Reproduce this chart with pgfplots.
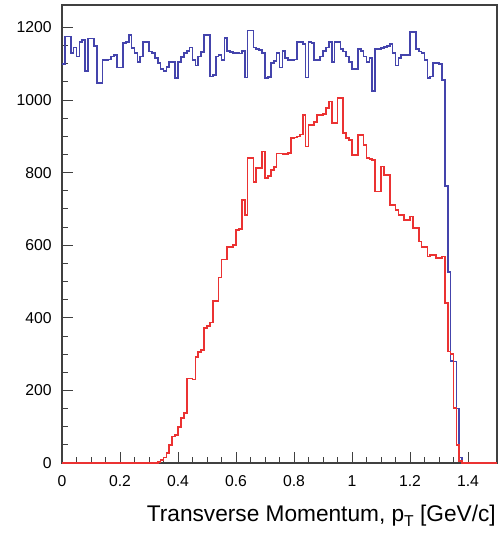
\documentclass[border=0pt]{standalone}
\usepackage{fontspec}
\setmainfont{Liberation Sans}
\usepackage{pgfplots}
\pgfplotsset{compat=1.18}
\definecolor{hblue}{RGB}{68,68,172}
\definecolor{hred}{RGB}{235,50,50}
\begin{document}
\begin{tikzpicture}
\begin{axis}[
 scale only axis, width=326.25pt, height=343.5pt,
 xmin=0, xmax=1.5, ymin=0, ymax=1262,
 axis line style={black!75, line width=0.8pt},
 tick align=inside, xtick pos=bottom, ytick pos=left,
 xtick={0,0.2,0.4,0.6,0.8,1,1.2,1.4}, ytick={0,200,400,600,800,1000,1200},
 minor x tick num=3, minor y tick num=3,
 major tick length=8.5pt, minor tick length=4.5pt,
 tick style={black!75, line width=0.7pt},
 /pgf/number format/assume math mode=true,
 /pgf/number format/1000 sep={},
 ticklabel style={font=\fontsize{11.8}{14}\selectfont, inner sep=0pt},
 xticklabel style={anchor=north, yshift=-9.2pt},
 yticklabel style={anchor=east, xshift=-7.5pt},
 xlabel={Transverse Momentum, p\raisebox{-0.4ex}{\fontsize{11.8}{12}\selectfont T} [GeV/c]},
 every axis x label/.style={at={(rel axis cs:1,0)}, anchor=north east, inner sep=0pt, yshift=-31.5pt, xshift=-0.75pt, font=\fontsize{17}{20}\selectfont},
]
\addplot[const plot mark left, hblue, line width=1.3pt] coordinates {
(0.00,1100)(0.01,1175)(0.02,1175)(0.03,1130)(0.04,1145)(0.05,1120)(0.06,1160)(0.07,1165)(0.08,1080)(0.09,1170)
(0.10,1170)(0.11,1150)(0.12,1048)(0.13,1048)(0.14,1110)(0.15,1110)(0.16,1112)(0.17,1120)(0.18,1125)(0.19,1090)
(0.20,1090)(0.21,1157)(0.22,1160)(0.23,1180)(0.24,1143)(0.25,1130)(0.26,1105)(0.27,1120)(0.28,1160)(0.29,1160)
(0.30,1134)(0.31,1129)(0.32,1115)(0.33,1102)(0.34,1085)(0.35,1080)(0.36,1092)(0.37,1105)(0.38,1105)(0.39,1060)
(0.40,1105)(0.41,1118)(0.42,1130)(0.43,1135)(0.44,1145)(0.45,1110)(0.46,1095)(0.47,1120)(0.48,1132)(0.49,1180)
(0.50,1180)(0.51,1065)(0.52,1070)(0.53,1120)(0.54,1125)(0.55,1110)(0.56,1172)(0.57,1135)(0.58,1133)(0.59,1130)
(0.60,1130)(0.61,1128)(0.62,1135)(0.63,1062)(0.64,1192)(0.65,1192)(0.66,1145)(0.67,1141)(0.68,1138)(0.69,1130)
(0.70,1060)(0.71,1063)(0.72,1102)(0.73,1107)(0.74,1130)(0.75,1090)(0.76,1135)(0.77,1115)(0.78,1111)(0.79,1110)
(0.80,1112)(0.81,1160)(0.82,1160)(0.83,1155)(0.84,1062)(0.85,1160)(0.86,1157)(0.87,1110)(0.88,1111)(0.89,1120)
(0.90,1135)(0.91,1145)(0.92,1161)(0.93,1105)(0.94,1161)(0.95,1161)(0.96,1140)(0.97,1134)(0.98,1120)(0.99,1105)
(1.00,1085)(1.01,1085)(1.02,1140)(1.03,1135)(1.04,1120)(1.05,1105)(1.06,1115)(1.07,1025)(1.08,1140)(1.09,1140)
(1.10,1143)(1.11,1147)(1.12,1150)(1.13,1155)(1.14,1130)(1.15,1095)(1.16,1115)(1.17,1125)(1.18,1125)(1.19,1125)
(1.20,1188)(1.21,1188)(1.22,1140)(1.23,1134)(1.24,1129)(1.25,1110)(1.26,1060)(1.27,1065)(1.28,1102)(1.29,1102)
(1.30,1100)(1.31,1055)(1.32,763)(1.33,527)(1.34,282)(1.35,280)(1.36,150)(1.37,15)(1.38,0)(1.50,0)
};
\addplot[const plot mark left, hred, line width=1.3pt] coordinates {
(0.00,0)(0.33,2)(0.34,8)(0.35,15)(0.36,28)(0.37,50)(0.38,73)(0.39,77)
(0.40,100)(0.41,123)(0.42,137)(0.43,233)(0.44,233)(0.45,230)(0.46,293)(0.47,305)(0.48,311)(0.49,371)
(0.50,377)(0.51,387)(0.52,447)(0.53,447)(0.54,511)(0.55,561)(0.56,561)(0.57,596)(0.58,596)(0.59,600)
(0.60,642)(0.61,645)(0.62,725)(0.63,684)(0.64,840)(0.65,840)(0.66,775)(0.67,812)(0.68,812)(0.69,858)
(0.70,785)(0.71,790)(0.72,807)(0.73,815)(0.74,853)(0.75,853)(0.76,851)(0.77,851)(0.78,855)(0.79,895)
(0.80,897)(0.81,900)(0.82,905)(0.83,959)(0.84,872)(0.85,932)(0.86,932)(0.87,940)(0.88,959)(0.89,959)
(0.90,962)(0.91,978)(0.92,996)(0.93,936)(0.94,936)(0.95,1005)(0.96,1005)(0.97,909)(0.98,895)(0.99,890)
(1.00,849)(1.01,849)(1.02,904)(1.03,904)(1.04,877)(1.05,840)(1.06,838)(1.07,835)(1.08,748)(1.09,748)
(1.10,817)(1.11,794)(1.12,794)(1.13,711)(1.14,711)(1.15,697)(1.16,684)(1.17,684)(1.18,670)(1.19,670)
(1.20,679)(1.21,648)(1.22,648)(1.23,610)(1.24,596)(1.25,596)(1.26,569)(1.27,573)(1.28,573)(1.29,564)
(1.30,564)(1.31,569)(1.32,440)(1.33,307)(1.34,300)(1.35,152)(1.36,50)(1.37,5)(1.38,0)(1.50,0)
};
\end{axis}
\pgfresetboundingbox
\path ([shift={(-46.5pt,-54pt)}]current axis.south west) rectangle ([shift={(0.75pt,3.75pt)}]current axis.north east);
\end{tikzpicture}
\end{document}
